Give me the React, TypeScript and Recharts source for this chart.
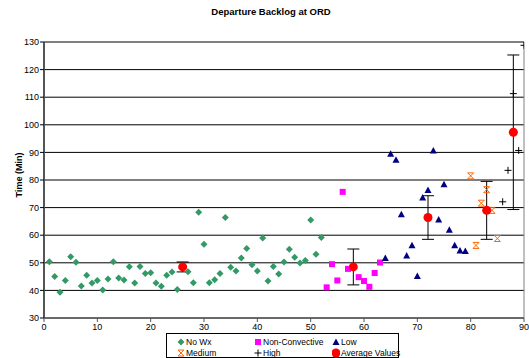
import React from 'react';
import { ScatterChart, Scatter, XAxis, YAxis, CartesianGrid, ErrorBar, ReferenceLine } from 'recharts';

// values
const noWxX = [1, 2, 3, 4, 5, 6, 7, 8, 9, 10, 11, 12, 13, 14, 15, 16, 17, 18, 19, 20, 21, 22, 23, 24, 25,
    27, 28, 29, 30, 31, 32, 33, 34, 35, 36, 37, 38, 39, 40, 41, 42, 43, 44, 45, 46, 47, 48, 49, 50, 51, 52];
const noWxY = [50.4, 45.0, 39.3, 43.6, 52.2, 50.2, 41.6, 45.5, 42.7, 43.6, 40.1, 44.1, 50.4, 44.5, 43.8, 48.6, 42.7, 48.7, 46.1, 46.4, 42.7, 41.5, 45.5, 46.7, 40.3,
    46.8, 42.8, 68.3, 56.7, 42.8, 43.9, 46.1, 66.4, 48.4, 47.0, 51.7, 55.2, 49.3, 47.0, 59.0, 43.4, 48.7, 45.9, 50.3, 54.9, 52.0, 49.9, 50.8, 65.5, 53.1, 59.2];

const nonConvX = [53, 54, 55, 56, 57, 59, 60, 61, 62, 63];
const nonConvY = [41.1, 49.5, 43.6, 75.7, 47.8, 44.8, 43.4, 41.3, 46.3, 50.1];

const lowX = [64, 65, 66, 67, 68, 69, 70, 71, 72, 73, 74, 75, 76, 77, 78, 79];
const lowY = [51.7, 89.5, 87.3, 67.6, 52.6, 56.4, 45.2, 73.7, 76.4, 90.7, 65.7, 78.5, 62.0, 56.4, 54.5, 54.3];

const mediumX = [80, 81, 82, 83, 84, 85];
const mediumY = [81.5, 56.3, 71.6, 76.5, 69.0, 58.8];

const highX = [86, 87, 88, 89, 90];
const highY = [72.1, 83.5, 111.3, 90.7, 128.8];

const avgX = [26, 58, 72, 83, 88];
const avgY = [48.5, 48.5, 66.4, 69.0, 97.3];
const avgErr = [1.8, 6.5, 7.9, 10.5, 28];

const xTicks = [0, 10, 20, 30, 40, 50, 60, 70, 80, 90];
const yTicks = [30, 40, 50, 60, 70, 80, 90, 100, 110, 120, 130];

const toPoints = (xs: number[], ys: number[]) => xs.map((x, i) => ({ x, y: ys[i] }));

const FONT = 'Arial, "Liberation Sans", sans-serif';

const Diamond = ({ cx, cy }: any) => (
    <polygon points={`${cx},${cy - 3.5} ${cx + 3.5},${cy} ${cx},${cy + 3.5} ${cx - 3.5},${cy}`} fill="#339966" />
);
const Square = ({ cx, cy }: any) => <rect x={cx - 3} y={cy - 3} width={6} height={6} fill="#FF00FF" />;
const Triangle = ({ cx, cy }: any) => (
    <polygon points={`${cx},${cy - 3.5} ${cx + 3.5},${cy + 3} ${cx - 3.5},${cy + 3}`} fill="#000080" />
);
const Star = ({ cx, cy }: any) => (
    <g stroke="#FF6600" strokeWidth={1} fill="none">
        <line x1={cx - 3} y1={cy - 3} x2={cx + 3} y2={cy + 3} />
        <line x1={cx + 3} y1={cy - 3} x2={cx - 3} y2={cy + 3} />
        <line x1={cx - 3} y1={cy - 3} x2={cx + 3} y2={cy - 3} />
        <line x1={cx - 3} y1={cy + 3} x2={cx + 3} y2={cy + 3} />
    </g>
);
const Plus = ({ cx, cy }: any) => (
    <g stroke="#000" strokeWidth={1}>
        <line x1={cx - 3.5} y1={cy} x2={cx + 3.5} y2={cy} />
        <line x1={cx} y1={cy - 3.5} x2={cx} y2={cy + 3.5} />
    </g>
);
const Dot = ({ cx, cy }: any) => <circle cx={cx} cy={cy} r={4.5} fill="#FF0000" />;

const legendItems = [
    { label: 'No Wx', Shape: Diamond, left: 10, top: 3 },
    { label: 'Non-Convective', Shape: Square, left: 87, top: 3 },
    { label: 'Low', Shape: Triangle, left: 165, top: 3 },
    { label: 'Medium', Shape: Star, left: 10, top: 14 },
    { label: 'High', Shape: Plus, left: 87, top: 14 },
    { label: 'Average Values', Shape: Dot, left: 165, top: 14 },
];

const App = () => {
    const avgData = avgX.map((x, i) => ({ x, y: avgY[i], err: avgErr[i] }));

    return (
        <div style={{ position: 'absolute', left: 0, top: 0, width: 529, height: 358, background: '#fff', fontFamily: FONT }}>
            <div style={{ position: 'absolute', left: 0, width: 542, top: 6, textAlign: 'center', fontSize: 9.5, fontWeight: 'bold' }}>
                Departure Backlog at ORD
            </div>
            <ScatterChart width={529} height={358} margin={{ top: 42, right: 5, bottom: 20, left: 0 }}>
                <CartesianGrid horizontal vertical={false} stroke="#000" strokeDasharray="" />
                <XAxis
                    type="number"
                    dataKey="x"
                    domain={[0, 90]}
                    ticks={xTicks}
                    height={20}
                    tickSize={4}
                    tickMargin={2}
                    axisLine={{ stroke: '#555' }}
                    tickLine={{ stroke: '#555' }}
                    tick={{ fontSize: 9, fill: '#000', fontFamily: FONT }}
                    allowDataOverflow
                />
                <YAxis
                    type="number"
                    dataKey="y"
                    domain={[30, 130]}
                    ticks={yTicks}
                    width={44}
                    tickSize={4}
                    tickMargin={1}
                    axisLine={{ stroke: '#555', strokeWidth: 2 }}
                    tickLine={{ stroke: '#000' }}
                    tick={{ fontSize: 9, fill: '#000', fontFamily: FONT }}
                    label={{
                        content: () => (
                            <text x={19} y={175} transform="rotate(-90 19 175)" textAnchor="middle" dominantBaseline="central"
                                fontSize={9} fontWeight="bold" fontFamily={FONT} fill="#000">Time (Min)</text>
                        ),
                    }}
                />
                <ReferenceLine y={130} stroke="#808080" />
                <ReferenceLine x={90} stroke="#808080" />
                <Scatter name="No Wx" data={toPoints(noWxX, noWxY)} shape={Diamond} isAnimationActive={false} />
                <Scatter name="Non-Convective" data={toPoints(nonConvX, nonConvY)} shape={Square} isAnimationActive={false} />
                <Scatter name="Low" data={toPoints(lowX, lowY)} shape={Triangle} isAnimationActive={false} />
                <Scatter name="Medium" data={toPoints(mediumX, mediumY)} shape={Star} isAnimationActive={false} />
                <Scatter name="High" data={toPoints(highX, highY)} shape={Plus} isAnimationActive={false} />
                <Scatter name="Average Values" data={avgData} shape={Dot} isAnimationActive={false}>
                    <ErrorBar dataKey="err" direction="y" width={6} stroke="#000" strokeWidth={1} />
                </Scatter>
            </ScatterChart>
            <div style={{ position: 'absolute', left: 166, top: 333, width: 231, height: 23, border: '1px solid #000', fontSize: 8.5 }}>
                {legendItems.map(({ label, Shape, left, top }) => (
                    <div key={label} style={{ position: 'absolute', left, top, height: 10, display: 'flex', alignItems: 'center', whiteSpace: 'nowrap' }}>
                        <svg width={8} height={10} style={{ marginRight: 1 }}>
                            <Shape cx={4} cy={5} />
                        </svg>
                        <span>{label}</span>
                    </div>
                ))}
            </div>
        </div>
    );
};

export default App;
